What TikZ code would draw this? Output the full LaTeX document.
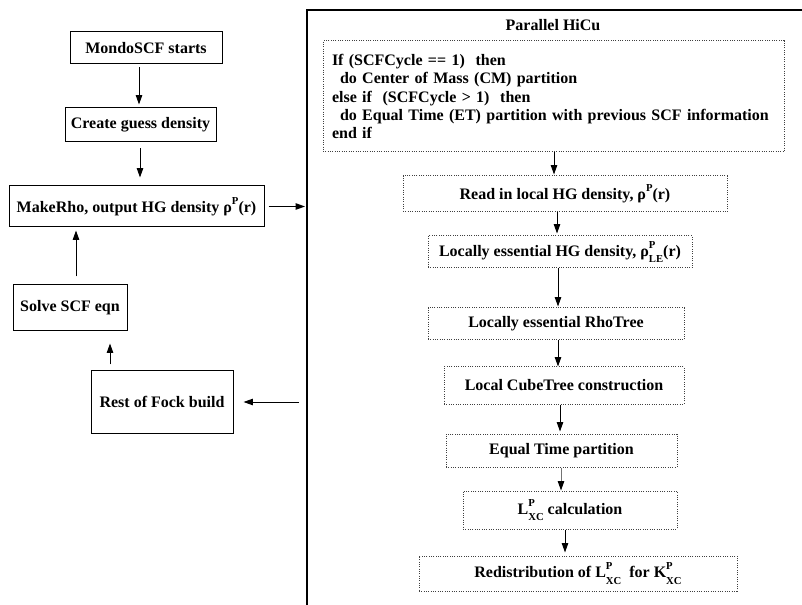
\documentclass[tikz,border=0pt]{standalone}
\usepackage{fontspec}
\setmainfont{Liberation Serif}
\usetikzlibrary{arrows.meta}
% small raised and lowered indices
\newcommand\upidx[1]{\raisebox{0.5em}{\fontsize{8}{8}\selectfont #1}}
\newcommand\lowidx[1]{\raisebox{-0.42em}{\fontsize{8}{8}\selectfont #1}}
% superscript stacked over a subscript
\newcommand\supsub[2]{\makebox[0pt][l]{\upidx{#1}}\lowidx{#2}}
\begin{document}
\begin{tikzpicture}[x=0.75pt,y=-0.75pt,
  txt/.style={font=\bfseries\fontsize{12}{13.6}\selectfont},
  solidbox/.style={txt,draw,line width=0.75pt,inner sep=0pt,align=center},
  dotbox/.style={txt,draw=black!75,densely dotted,line width=0.75pt,inner sep=0pt,align=center},
  arr/.style={line width=0.75pt,-{Triangle[length=7pt,width=4.8pt]}}]
\useasboundingbox (0,0) rectangle (802,605);

% frame of the parallel section
\draw[line width=0.9pt] (307,605) -- (307,10) -- (802,10);
\coordinate (frame) at (307,0);

% serial driver loop
\node[solidbox,minimum width=114pt,minimum height=24pt] (start) at (146,48) {MondoSCF starts};
\node[solidbox,minimum width=113.25pt,minimum height=25.5pt] (guess) at (140.5,125) {Create guess density};
\node[solidbox,minimum width=191.25pt,minimum height=30.75pt] (rho) at (136.5,206.5) {MakeRho, output HG density ρ\upidx{P}(r)};
\node[solidbox,minimum width=85.5pt,minimum height=34.5pt] (solve) at (70,308) {Solve SCF eqn};
\node[solidbox,minimum width=106.5pt,minimum height=46.5pt] (fock) at (162,402) {Rest of Fock build};

% parallel HiCu steps
\node[txt] (title) at (553,25) {Parallel HiCu};
\node[dotbox,align=left,text width=332.25pt,inner xsep=6.75pt,minimum height=83.25pt] (ifbox) at (553.5,96.5)
  {If (SCFCycle == 1)\ \ then\\
   \hspace*{6pt}do Center of Mass (CM) partition\\
   else if\ \ (SCFCycle > 1)\ \ then\\
   \hspace*{6pt}do Equal Time (ET) partition with previous SCF information\\
   end if};
\node[dotbox,minimum width=243pt,minimum height=27pt] (read) at (565,194) {Read in local HG density, ρ\upidx{P}(r)};
\node[dotbox,minimum width=198pt,minimum height=24pt] (le) at (560,252) {Locally essential HG density, ρ\supsub{P}{LE}(r)};
\node[dotbox,minimum width=192pt,minimum height=24pt] (rhotree) at (556,324) {Locally essential RhoTree};
\node[dotbox,minimum width=180pt,minimum height=27.75pt] (cube) at (564,385.5) {Local CubeTree construction};
\node[dotbox,minimum width=173.25pt,minimum height=24.75pt] (et) at (561.5,450.5) {Equal Time partition};
\node[dotbox,minimum width=160.5pt,minimum height=28.5pt] (lxc) at (570,510) {L\supsub{P}{XC} calculation};
\node[dotbox,minimum width=238.5pt,minimum height=26.25pt] (redist) at (578,573.5) {Redistribution of L\supsub{P}{XC}\ \ for K\supsub{P}{XC}};

% connector columns
\coordinate (c1) at (139,0);
\coordinate (c2) at (140,0);
\coordinate (c3) at (76,0);
\coordinate (c4) at (110,0);
\coordinate (r1) at (554,0);
\coordinate (r2) at (557,0);
\coordinate (r3) at (558,0);
\coordinate (r4) at (560,0);
\coordinate (r5) at (561,0);
\coordinate (r6) at (565,0);

% left connectors
\draw[arr,shorten <=2.25pt,shorten >=2.25pt] (start.south -| c1) -- (guess.north -| c1);
\draw[arr,shorten <=4.5pt,shorten >=6pt] (guess.south -| c2) -- (rho.north -| c2);
\draw[arr,shorten <=3pt,shorten >=1.5pt] (rho.east) -- (rho.east -| frame);
\draw[arr,shorten <=6pt,shorten >=2.25pt] (solve.north -| c3) -- (rho.south -| c3);
\draw[arr,shorten <=4.5pt,shorten >=9pt] (fock.north -| c4) -- (solve.south -| c4);
\coordinate (fin) at (fock.east -| frame);
\draw[arr,shorten <=6pt,shorten >=7.5pt] (fin) -- (fock.east);

% right connectors
\draw[arr,shorten >=0.75pt] (ifbox.south -| r1) -- (read.north -| r1);
\draw[arr,shorten >=1.5pt] (read.south -| r2) -- (le.north -| r2);
\draw[arr,shorten >=0.75pt] (le.south -| r3) -- (rhotree.north -| r3);
\draw[arr] (rhotree.south -| r3) -- (cube.north -| r3);
\draw[arr,shorten >=1.5pt] (cube.south -| r4) -- (et.north -| r4);
\draw[arr,draw=black!55,-{Triangle[length=7pt,width=4.8pt,color=black]}] (et.south -| r5) -- (lxc.north -| r5);
\draw[arr,shorten >=2.25pt] (lxc.south -| r6) -- (redist.north -| r6);
\end{tikzpicture}
\end{document}
